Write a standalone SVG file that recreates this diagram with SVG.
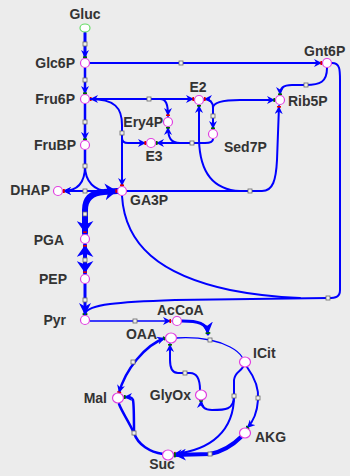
<svg xmlns="http://www.w3.org/2000/svg" width="350" height="476" viewBox="0 0 350 476">
<defs>
<style>
.c{fill:none;stroke:#0000ff;stroke-linecap:round;stroke-linejoin:round}
.w1{stroke-width:1.3}.w2{stroke-width:2}.w25{stroke-width:2.5}.w3{stroke-width:3}.w4{stroke-width:4}.w6{stroke-width:6}
.n{fill:#ffffff;stroke:#e040e0;stroke-width:1.2}
.sq{fill:#eeeeee;stroke:#666666;stroke-width:0.8}
.t{font-family:"Liberation Sans",Arial,sans-serif;font-size:14px;font-weight:bold;fill:#333333}
</style>
<marker id="aR" viewBox="0 0 10 10" refX="10" refY="5" markerWidth="8" markerHeight="8" markerUnits="userSpaceOnUse" orient="auto-start-reverse"><path d="M0,0 L10,5 L0,10 L3,5 z" fill="#0000ff"/><rect x="8" y="2.5" width="2" height="5" fill="#e00000"/></marker>
<marker id="aG" viewBox="0 0 10 10" refX="10" refY="5" markerWidth="8" markerHeight="8" markerUnits="userSpaceOnUse" orient="auto-start-reverse"><path d="M0,0 L10,5 L0,10 L3,5 z" fill="#0000ff"/><rect x="8" y="2.5" width="2" height="5" fill="#006600"/></marker>
<marker id="aB" viewBox="0 0 10 14" refX="10" refY="7" markerWidth="12" markerHeight="17" markerUnits="userSpaceOnUse" orient="auto-start-reverse"><path d="M0,0 L10,7 L0,14 L3,7 z" fill="#0000ff"/><rect x="8.6" y="5.5" width="1.4" height="3" fill="#e00000"/></marker>
<marker id="aM" viewBox="0 0 10 10" refX="10" refY="5" markerWidth="12" markerHeight="12" markerUnits="userSpaceOnUse" orient="auto-start-reverse"><path d="M0,0 L10,5 L0,10 L3,5 z" fill="#0000ff"/><rect x="8.5" y="3" width="1.5" height="4" fill="#006600"/></marker>
</defs>
<rect x="0" y="0" width="350" height="476" fill="#ececec"/>
<g id="connectors">
<path class="c w3" d="M85,33 L85,58" marker-end="url(#aG)"/>
<path class="c w25" d="M85,68 L85,94" marker-end="url(#aG)"/>
<path class="c w25" d="M85,104 L85,140" marker-end="url(#aG)"/>
<path class="c w25" d="M85,150 L85,166"/>
<path class="c w2" d="M85,166 C85,182 78,191 63,191" marker-end="url(#aR)"/>
<path class="c w2" d="M85,166 C85,182 95,191 108,191"/>
<path class="c w2" d="M63,191 L110,191" marker-start="url(#aR)"/>
<path class="c w6" d="M85,233 L85,210 Q85,193 104,192 L117,191" marker-start="url(#aB)" marker-end="url(#aB)"/>
<path class="c w4" d="M85,245 L85,273" marker-start="url(#aB)" marker-end="url(#aB)"/>
<path class="c w3" d="M85,284 L85,315" marker-end="url(#aM)"/>
<path class="c w2" d="M90,63 L322,63" marker-end="url(#aR)"/>
<path class="c w2" d="M327,68 C327,82 320,85 306,85 L292,85 C283,85 280,88 280,95" marker-end="url(#aG)"/>
<path class="c w2" d="M332,63 C340,63 340,70 340,80 L340,290 C340,297 336,298 328,298 L175,300 C120,302 87,304 85,314"/>
<path class="c w2" d="M122,196 C125,245 160,275 230,290 C255,295 275,297 300,298"/>
<path class="c w2" d="M90,99 L194,99" marker-start="url(#aR)" marker-end="url(#aR)"/>
<path class="c w2" d="M160,99 C166,99 168,104 168,116" marker-end="url(#aR)"/>
<path class="c w2" d="M90,99 C115,99 122,108 122,125 L122,186" marker-end="url(#aR)"/>
<path class="c w2" d="M122,133 L122,138 Q122,143 128,143 L146,143" marker-end="url(#aR)"/>
<path class="c w2" d="M156,143 L205,143 C211,143 213,141 213,139" marker-start="url(#aG)"/>
<path class="c w2" d="M180,143 C171,143 168,138 168,127" marker-end="url(#aG)"/>
<path class="c w2" d="M204,99 C210,99 213,102 213,108 L213,129" marker-start="url(#aR)" marker-end="url(#aG)"/>
<path class="c w2" d="M213,108 C213,102 225,100 240,100 L275,100" marker-end="url(#aG)"/>
<path class="c w2" d="M199,105 L199,140 C200,175 215,190 240,191" marker-start="url(#aG)"/>
<path class="c w2" d="M127,191 L262,191 C273,191 276,180 277,160 L279,106" marker-end="url(#aR)"/>
<path class="c w1" d="M90,321 L171,321" marker-end="url(#aR)"/>
<path class="c w3" d="M182,321 C198,321 207,323 208,334" marker-end="url(#aM)"/>
<path class="c w1" d="M176,338 C190,337 200,338 210,340 C225,343 238,350 242,357"/>
<path class="c w2" d="M247,367 C255,378 259,390 258,400 C257,415 252,423 247,428" marker-end="url(#aG)"/>
<path class="c w2" d="M243,367 C240,372 235,372 234,380 L234,396"/>
<path class="c w2" d="M234,396 C234,410 225,410 212,410 C204,410 201,406 201,400" marker-end="url(#aG)"/>
<path class="c w2" d="M234,396 C234,430 212,450 174,454" marker-end="url(#aR)"/>
<path class="c w4" d="M241,437 C230,448 220,452 210,454 L174,455" marker-end="url(#aM)"/>
<path class="c w25" d="M163,454 C150,452 138,445 134,433 C128,420 122,412 119,404"/>
<path class="c w25" d="M134,433 C134,420 134,405 133,400 C132,397 130,397 124,397" marker-end="url(#aG)"/>
<path class="c w25" d="M119,393 C125,370 145,345 165,338" marker-start="url(#aR)" marker-end="url(#aG)"/>
<path class="c w2" d="M200,390 C200,380 198,373 190,373 L178,373 C172,373 170,368 170,360 L170,344" marker-end="url(#aG)"/>
<rect class="sq" x="83" y="42" width="4" height="4"/>
<rect class="sq" x="83" y="78" width="4" height="4"/>
<rect class="sq" x="83" y="120" width="4" height="4"/>
<rect class="sq" x="83" y="164" width="4" height="4"/>
<rect class="sq" x="83" y="189" width="4" height="4"/>
<rect class="sq" x="83" y="212" width="4" height="4"/>
<rect class="sq" x="83" y="258" width="4" height="4"/>
<rect class="sq" x="83" y="298" width="4" height="4"/>
<rect class="sq" x="179" y="61" width="4" height="4"/>
<rect class="sq" x="304" y="83" width="4" height="4"/>
<rect class="sq" x="326" y="296" width="4" height="4"/>
<rect class="sq" x="147" y="97" width="4" height="4"/>
<rect class="sq" x="120" y="131" width="4" height="4"/>
<rect class="sq" x="190" y="141" width="4" height="4"/>
<rect class="sq" x="211" y="114" width="4" height="4"/>
<rect class="sq" x="248" y="189" width="4" height="4"/>
<rect class="sq" x="133" y="319" width="4" height="4"/>
<rect class="sq" x="208" y="338" width="4" height="4"/>
<rect class="sq" x="256" y="396" width="4" height="4"/>
<rect class="sq" x="232" y="394" width="4" height="4"/>
<rect class="sq" x="208" y="452" width="4" height="4"/>
<rect class="sq" x="132" y="431" width="4" height="4"/>
<rect class="sq" x="131" y="360" width="4" height="4"/>
<rect class="sq" x="183" y="371" width="4" height="4"/>
</g>
<g id="Gluc"><ellipse cx="85" cy="28" rx="5" ry="4" fill="#ffffff" stroke="#66dd66" stroke-width="1.2"/><text class="t" x="85" y="19" text-anchor="middle">Gluc</text></g>
<g id="Glc6P"><circle class="n" cx="85" cy="63" r="4.5"/><text class="t" x="75" y="68" text-anchor="end">Glc6P</text></g>
<g id="Fru6P"><circle class="n" cx="85" cy="99" r="4.5"/><text class="t" x="75" y="104" text-anchor="end">Fru6P</text></g>
<g id="FruBP"><circle class="n" cx="85" cy="145" r="4.5"/><text class="t" x="76" y="150" text-anchor="end">FruBP</text></g>
<g id="DHAP"><circle class="n" cx="58" cy="191" r="4.5"/><text class="t" x="50" y="195" text-anchor="end">DHAP</text></g>
<g id="GA3P"><circle class="n" cx="122" cy="191" r="4.5"/><text class="t" x="130" y="205">GA3P</text></g>
<g id="PGA"><circle class="n" cx="85" cy="239" r="4.5"/><text class="t" x="64" y="245" text-anchor="end">PGA</text></g>
<g id="PEP"><circle class="n" cx="85" cy="279" r="4.5"/><text class="t" x="67" y="284" text-anchor="end">PEP</text></g>
<g id="Pyr"><circle class="n" cx="85" cy="320" r="4.5"/><text class="t" x="66" y="325" text-anchor="end">Pyr</text></g>
<g id="Gnt6P"><circle class="n" cx="327" cy="63" r="4.5"/><text class="t" x="304" y="56">Gnt6P</text></g>
<g id="E2"><circle class="n" cx="199" cy="100" r="4.5"/><text class="t" x="198" y="92" text-anchor="middle">E2</text></g>
<g id="Ery4P"><circle class="n" cx="168" cy="122" r="4.5"/><text class="t" x="163" y="127" text-anchor="end">Ery4P</text></g>
<g id="E3"><circle class="n" cx="151" cy="143" r="4.5"/><text class="t" x="154" y="161" text-anchor="middle">E3</text></g>
<g id="Sed7P"><circle class="n" cx="213" cy="134" r="4.5"/><text class="t" x="224" y="152">Sed7P</text></g>
<g id="Rib5P"><circle class="n" cx="280" cy="100" r="4.5"/><text class="t" x="288" y="106">Rib5P</text></g>
<g id="AcCoA"><circle class="n" cx="177" cy="321" r="4.5"/><text class="t" x="157" y="315">AcCoA</text></g>
<g id="OAA"><ellipse class="n" cx="171" cy="338" rx="5.5" ry="5"/><text class="t" x="157" y="339" text-anchor="end">OAA</text></g>
<g id="ICit"><ellipse class="n" cx="245" cy="362" rx="5.5" ry="5"/><text class="t" x="253" y="358">ICit</text></g>
<g id="GlyOx"><ellipse class="n" cx="201" cy="395" rx="5.5" ry="5"/><text class="t" x="191" y="400" text-anchor="end">GlyOx</text></g>
<g id="Mal"><ellipse class="n" cx="118" cy="398" rx="5.5" ry="5"/><text class="t" x="107" y="403" text-anchor="end">Mal</text></g>
<g id="AKG"><ellipse class="n" cx="245" cy="433" rx="5.5" ry="5"/><text class="t" x="255" y="442">AKG</text></g>
<g id="Suc"><ellipse class="n" cx="168" cy="455" rx="5.5" ry="5"/><text class="t" x="162" y="469" text-anchor="middle">Suc</text></g>
</svg>
